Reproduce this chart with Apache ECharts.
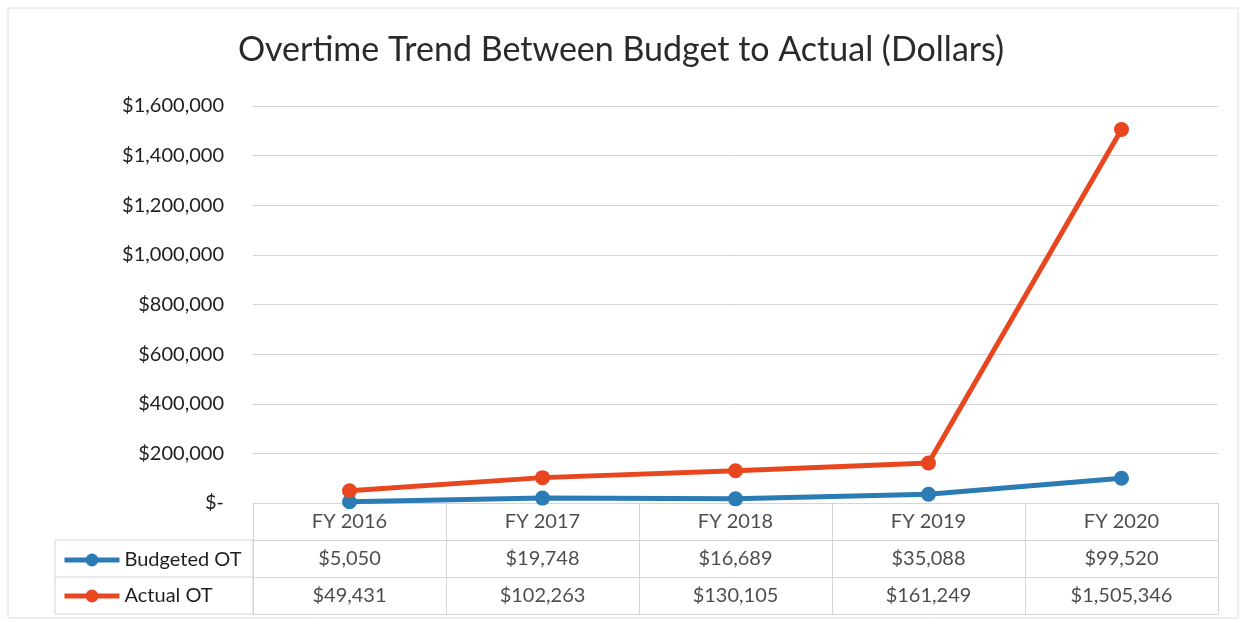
<!DOCTYPE html>
<html>
<head>
<meta charset="utf-8">
<title>Overtime Trend Between Budget to Actual</title>
<script src="https://cdn.jsdelivr.net/npm/echarts@6/dist/echarts.min.js"></script>
<style>
  html, body { margin: 0; padding: 0; background: #fff; }
  #chart { width: 1242px; height: 622px; }
</style>
</head>
<body>
<div id="chart"></div>
<script>
// chart data
const years = ['FY 2016', 'FY 2017', 'FY 2018', 'FY 2019', 'FY 2020']
const budgetedOT = [5050, 19748, 16689, 35088, 99520]
const actualOT = [49431, 102263, 130105, 161249, 1505346]
const seriesNames = ['Budgeted OT', 'Actual OT']
const yTicks = [0, 200000, 400000, 600000, 800000, 1000000, 1200000, 1400000, 1600000]

const FONT = 'Lato, "Open Sans", sans-serif'
const BLUE = '#2b7bb4'
const RED = '#e8461e'
const GRID_GRAY = '#d4d4d4'
const TEXT = '#1e1e1e'

function money(v) {
  return v === 0 ? '$-' : '$' + v.toLocaleString('en-US')
}

// table cells (header row + two value rows)
const tableCells = []
years.forEach((y, i) => {
  tableCells.push([i, 0, y])
  tableCells.push([i, 1, money(budgetedOT[i])])
  tableCells.push([i, 2, money(actualOT[i])])
})

const chart = echarts.init(document.getElementById('chart'))

chart.setOption({
  backgroundColor: '#fff',
  animation: false,
  textStyle: { fontFamily: FONT },
  title: {
    text: 'Overtime Trend Between Budget to Actual (Dollars)',
    left: 'center',
    top: 28,
    textStyle: { fontFamily: FONT, fontSize: 34, fontWeight: 'normal', color: '#2a2a2a' }
  },
  legend: {
    data: seriesNames,
    orient: 'vertical',
    left: 57,
    top: 545,
    itemWidth: 55,
    itemHeight: 16,
    itemGap: 16,
    lineStyle: { width: 5 },
    textStyle: { fontFamily: FONT, fontSize: 20, color: TEXT }
  },
  grid: [
    { left: 253, right: 24, top: 106, bottom: 119 },
    { left: 253, right: 24, top: 503, height: 111 }
  ],
  xAxis: [
    {
      gridIndex: 0,
      type: 'category',
      data: years,
      boundaryGap: true,
      axisLine: { show: false },
      axisTick: { show: false },
      axisLabel: { show: false }
    },
    {
      gridIndex: 1,
      type: 'category',
      data: years,
      boundaryGap: true,
      axisLine: { show: true, lineStyle: { color: GRID_GRAY } },
      axisTick: { show: false },
      axisLabel: { show: false },
      splitLine: { show: true, interval: 0, lineStyle: { color: GRID_GRAY } }
    }
  ],
  yAxis: [
    {
      gridIndex: 0,
      type: 'value',
      min: yTicks[0],
      max: yTicks[yTicks.length - 1],
      interval: yTicks[1] - yTicks[0],
      axisLine: { show: false },
      axisTick: { show: false },
      axisLabel: {
        margin: 29,
        fontSize: 20,
        color: TEXT,
        fontFamily: FONT,
        formatter: money
      },
      splitLine: { lineStyle: { color: GRID_GRAY, width: 1 } }
    },
    {
      gridIndex: 1,
      type: 'category',
      data: ['', seriesNames[0], seriesNames[1]],
      inverse: true,
      boundaryGap: true,
      axisLine: { show: true, lineStyle: { color: GRID_GRAY } },
      axisTick: { show: false },
      axisLabel: { show: false },
      splitLine: { show: true, interval: 0, lineStyle: { color: GRID_GRAY } }
    }
  ],
  series: [
    {
      name: seriesNames[0],
      type: 'line',
      xAxisIndex: 0,
      yAxisIndex: 0,
      data: budgetedOT,
      color: BLUE,
      symbol: 'circle',
      symbolSize: 15,
      lineStyle: { width: 5 },
      z: 3
    },
    {
      name: seriesNames[1],
      type: 'line',
      xAxisIndex: 0,
      yAxisIndex: 0,
      data: actualOT,
      color: RED,
      symbol: 'circle',
      symbolSize: 15,
      lineStyle: { width: 5 },
      z: 4
    },
    {
      name: 'table',
      type: 'scatter',
      xAxisIndex: 1,
      yAxisIndex: 1,
      data: tableCells,
      symbolSize: 0,
      silent: true,
      label: {
        show: true,
        position: 'inside',
        fontFamily: FONT,
        fontSize: 20,
        color: TEXT,
        formatter: p => p.data[2]
      }
    }
  ],
  graphic: [
    // outer frame of the picture
    {
      type: 'rect',
      shape: { x: 8, y: 8, width: 1230, height: 610 },
      style: { fill: 'none', stroke: '#dedede', lineWidth: 1 },
      silent: true
    },
    // legend box on the left of the data table
    {
      type: 'rect',
      shape: { x: 55, y: 540, width: 198, height: 74 },
      style: { fill: 'none', stroke: GRID_GRAY, lineWidth: 1 },
      silent: true
    },
    {
      type: 'line',
      shape: { x1: 55, y1: 577, x2: 253, y2: 577 },
      style: { stroke: GRID_GRAY, lineWidth: 1 },
      silent: true
    }
  ]
})
</script>
</body>
</html>
